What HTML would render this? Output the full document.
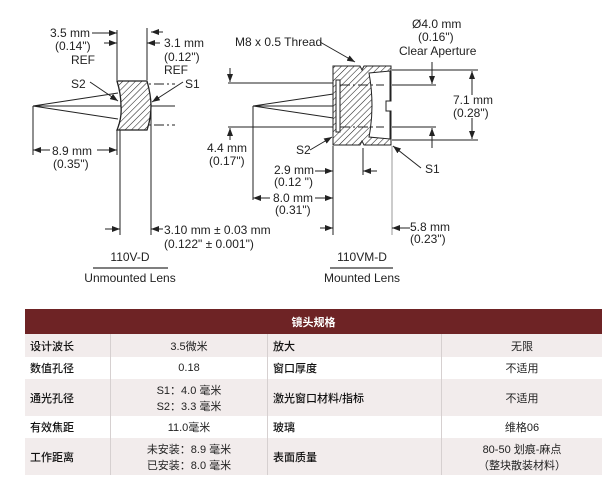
<!DOCTYPE html>
<html><head><meta charset="utf-8"><style>
html,body{margin:0;padding:0;background:#fff;}
body{width:614px;height:483px;position:relative;overflow:hidden;}
svg text{font-family:"Liberation Sans Narrow","Liberation Sans",sans-serif;font-size:12px;fill:#222;}
table{position:absolute;left:25px;top:309px;width:577px;border-collapse:collapse;font-family:"Liberation Sans","Noto Sans CJK SC",sans-serif;font-size:11px;color:#222;}
th{background:#6e2325;color:#fff;height:25px;font-size:11px;font-weight:bold;padding:0;}
td{padding:0 5px;border-right:1px solid #d6d0d0;}
td:last-child{border-right:none;}
td.l{font-weight:500;color:#111;}
tr.p td{background:#f2ecec;}
td.c{text-align:center;}
</style></head><body>
<svg width="614" height="300" style="position:absolute;left:0;top:0" xmlns="http://www.w3.org/2000/svg">
<defs>
<pattern id="h" width="4.5" height="4.5" patternUnits="userSpaceOnUse" patternTransform="rotate(45)">
<rect width="4.5" height="4.5" fill="#fff"/><line x1="0" y1="0" x2="0" y2="4.5" stroke="#222" stroke-width="1.1"/></pattern>
<marker id="a" markerWidth="8" markerHeight="6" refX="8" refY="3" orient="auto" markerUnits="userSpaceOnUse"><path d="M0,0 L8,3 L0,6z" fill="#222"/></marker>
</defs>
<g stroke="#222" stroke-width="1" fill="none">
<line x1="33" y1="106" x2="175" y2="106"/>
<line x1="33" y1="106" x2="118" y2="93"/><line x1="33" y1="106" x2="118" y2="119"/>
<line x1="118" y1="84" x2="175" y2="84" stroke-dasharray="10,3,2,3"/>
<line x1="118" y1="125" x2="175" y2="125" stroke-dasharray="10,3,2,3"/>
<path d="M117,81 L147,81 Q151,95 151,106 Q151,118 147,130 L117,130 Q122,118 121,106 Q121,94 117,81Z" fill="url(#h)" stroke-width="1.3"/>
<line x1="33" y1="106" x2="33" y2="155"/>
<line x1="117" y1="30" x2="117" y2="80"/><line x1="117" y1="130" x2="117" y2="155"/>
<line x1="120" y1="130" x2="120" y2="235"/>
<line x1="147" y1="28" x2="147" y2="80"/>
<line x1="151" y1="106" x2="151" y2="235"/>
<line x1="92" y1="33" x2="117" y2="33" marker-end="url(#a)"/>
<line x1="104" y1="43" x2="117" y2="43" marker-end="url(#a)"/>
<line x1="163" y1="32" x2="151" y2="32" marker-end="url(#a)"/>
<line x1="160" y1="43" x2="147" y2="43" marker-end="url(#a)"/>
<line x1="90" y1="82" x2="118" y2="101" marker-end="url(#a)"/>
<line x1="183" y1="82" x2="152" y2="102" marker-end="url(#a)"/>
<line x1="50" y1="150" x2="33" y2="150" marker-end="url(#a)"/>
<line x1="97" y1="150" x2="117" y2="150" marker-end="url(#a)"/>
<line x1="105" y1="229" x2="120" y2="229" marker-end="url(#a)"/>
<line x1="163" y1="229" x2="151" y2="229" marker-end="url(#a)"/>
<line x1="93" y1="268" x2="168" y2="268" stroke="#555" stroke-width="1.5"/>
<line x1="253" y1="106" x2="385" y2="106"/>
<line x1="253" y1="106" x2="340" y2="93"/><line x1="253" y1="106" x2="340" y2="119"/>
<line x1="228" y1="83" x2="333" y2="83"/><line x1="228" y1="127" x2="333" y2="127"/>
<path d="M333,66 L360,66 L362,70 L364,66 L391,66 L391,101 L386,101 L386,111 L391,111 L391,145 L364,145 L362,141 L360,145 L333,145Z" fill="url(#h)"/>
<path d="M369,73 L390,71 L390,101 L386,101 L386,111 L390,111 L390,139 L369,137 Q375,106 369,73Z" fill="#fff"/>
<rect x="336" y="80" width="4" height="52" fill="#fff"/>
<line x1="340" y1="85" x2="384" y2="85" stroke-dasharray="10,3,2,3"/>
<line x1="340" y1="127" x2="384" y2="127" stroke-dasharray="10,3,2,3"/>
<line x1="392" y1="70" x2="478" y2="70"/><line x1="392" y1="140" x2="478" y2="140"/>
<line x1="392" y1="85" x2="436" y2="85"/><line x1="392" y1="127" x2="436" y2="127"/>
<line x1="472" y1="95" x2="472" y2="71" marker-end="url(#a)"/>
<line x1="472" y1="118" x2="472" y2="139" marker-end="url(#a)"/>
<line x1="432" y1="62" x2="432" y2="84" marker-end="url(#a)"/>
<line x1="432" y1="148" x2="432" y2="128" marker-end="url(#a)"/>
<line x1="230" y1="68" x2="230" y2="82" marker-end="url(#a)"/>
<line x1="230" y1="140" x2="230" y2="128" marker-end="url(#a)"/>
<line x1="320" y1="42" x2="355" y2="62" marker-end="url(#a)"/>
<line x1="310" y1="150" x2="332" y2="137" marker-end="url(#a)"/>
<line x1="421" y1="168" x2="393" y2="146" marker-end="url(#a)"/>
<line x1="253" y1="106" x2="253" y2="200"/>
<line x1="333" y1="146" x2="333" y2="235"/>
<line x1="363" y1="148" x2="363" y2="175"/>
<line x1="392" y1="146" x2="392" y2="235" stroke="#999"/>
<line x1="315" y1="171" x2="333" y2="171" marker-end="url(#a)"/>
<line x1="377" y1="171" x2="363" y2="171" marker-end="url(#a)"/>
<line x1="270" y1="198" x2="253" y2="198" marker-end="url(#a)"/>
<line x1="315" y1="198" x2="333" y2="198" marker-end="url(#a)"/>
<line x1="320" y1="228" x2="333" y2="228" marker-end="url(#a)"/>
<line x1="410" y1="228" x2="392" y2="228" marker-end="url(#a)"/>
<line x1="330" y1="268" x2="393" y2="268" stroke="#555" stroke-width="1.5"/>
</g>
<text x="50" y="37">3.5 mm</text><text x="55" y="50">(0.14")</text><text x="71" y="64">REF</text>
<text x="164" y="47">3.1 mm</text><text x="164" y="61">(0.12")</text><text x="164" y="74">REF</text>
<text x="71" y="88">S2</text><text x="185" y="88">S1</text>
<text x="52" y="155">8.9 mm</text><text x="53" y="168">(0.35")</text>
<text x="164" y="234">3.10 mm ± 0.03 mm</text><text x="164" y="248">(0.122" ± 0.001")</text>
<text x="130" y="261" text-anchor="middle">110V-D</text><text x="130" y="282" text-anchor="middle">Unmounted Lens</text>
<text x="235" y="46">M8 x 0.5 Thread</text>
<text x="412" y="28">Ø4.0 mm</text><text x="418" y="41">(0.16")</text><text x="399" y="55">Clear Aperture</text>
<text x="453" y="104">7.1 mm</text><text x="453" y="117">(0.28")</text>
<text x="207" y="152">4.4 mm</text><text x="209" y="165">(0.17")</text>
<text x="296" y="154">S2</text><text x="425" y="173">S1</text>
<text x="274" y="174">2.9 mm</text><text x="274" y="186">(0.12 ")</text>
<text x="273" y="202">8.0 mm</text><text x="275" y="214">(0.31")</text>
<text x="410" y="231">5.8 mm</text><text x="410" y="243">(0.23")</text>
<text x="362" y="261" text-anchor="middle">110VM-D</text><text x="362" y="282" text-anchor="middle">Mounted Lens</text>
</svg>
<table>
<tr><th colspan="4">镜头规格</th></tr>
<tr class="p" style="height:23px"><td class="l" style="width:75px">设计波长</td><td class="c" style="width:146px">3.5微米</td><td class="l" style="width:163px">放大</td><td class="c">无限</td></tr>
<tr style="height:22px"><td class="l">数值孔径</td><td class="c">0.18</td><td class="l">窗口厚度</td><td class="c">不适用</td></tr>
<tr class="p" style="height:37px"><td class="l">通光孔径</td><td class="c">S1：4.0 毫米<br>S2：3.3 毫米</td><td class="l">激光窗口材料/指标</td><td class="c">不适用</td></tr>
<tr style="height:22px"><td class="l">有效焦距</td><td class="c">11.0毫米</td><td class="l">玻璃</td><td class="c">维格06</td></tr>
<tr class="p" style="height:37px"><td class="l">工作距离</td><td class="c">未安装：8.9 毫米<br>已安装：8.0 毫米</td><td class="l">表面质量</td><td class="c">80-50 划痕-麻点<br>（整块散装材料）</td></tr>
</table>
</body></html>
